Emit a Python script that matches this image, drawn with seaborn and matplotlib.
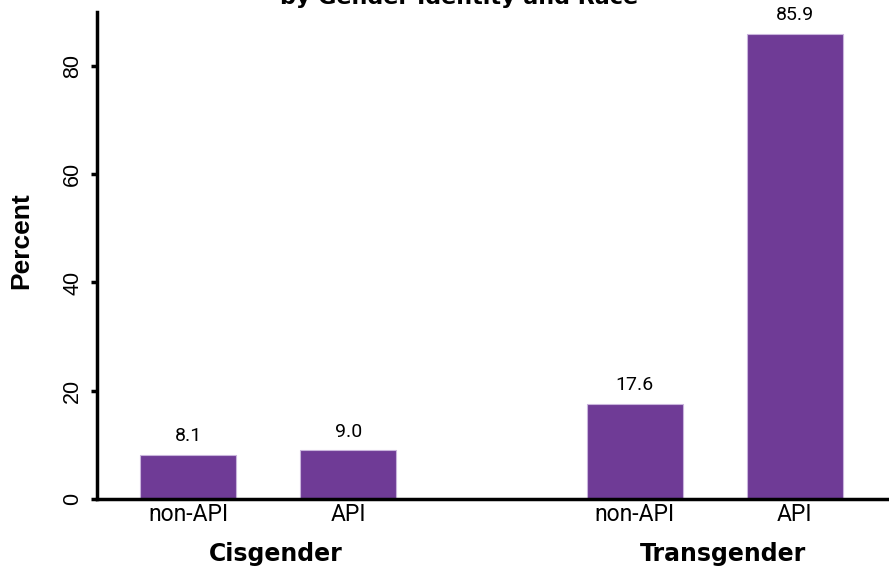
import numpy as np
import pandas as pd
import matplotlib
matplotlib.use("Agg")
import matplotlib.pyplot as plt
import seaborn as sns

# dados
grupos = ["Cisgender", "Cisgender", "Transgender", "Transgender"]
raca = ["non-API", "API", "non-API", "API"]
percentual = [8.1, 9.0, 17.6, 85.9]
posicao = [0.0, 1.0, 2.79, 3.79]

df = pd.DataFrame({"grupo": grupos, "raca": raca, "pct": percentual, "pos": posicao})

sns.set_style("ticks")
plt.rcParams.update({"text.color": "black", "axes.labelcolor": "black",
                     "xtick.color": "black", "ytick.color": "black",
                     "axes.edgecolor": "black"})
roxo = "#6f3b96"

fig = plt.figure(figsize=(8.89, 5.67), dpi=100)
ax = fig.add_axes([0.109, 0.12, 0.891, 0.859])

sns.barplot(data=df, x="pos", y="pct", native_scale=True, width=0.6,
            color=roxo, saturation=1, edgecolor="#c9b5dc", linewidth=0.8, ax=ax)

ax.set_xlim(-0.57, 4.38)
ax.set_ylim(0, 90)
ax.set_yticks([0, 20, 40, 60, 80])
ax.set_yticklabels(["0", "20", "40", "60", "80"], rotation=90, va="center",
                   fontsize=15.5, family=["Liberation Sans Narrow", "Liberation Sans", "DejaVu Sans"])
ax.set_xticks(df["pos"])
ax.set_xticklabels(df["raca"], fontsize=16.5, family=["Roboto", "DejaVu Sans"])
ax.tick_params(axis="x", length=0, pad=3)
ax.tick_params(axis="y", length=4, width=2.5, pad=6)

for s in ["top", "right"]:
    ax.spines[s].set_visible(False)
ax.spines["left"].set_linewidth(2.5)
ax.spines["bottom"].set_linewidth(2.5)

ax.set_xlabel("")
ax.set_ylabel("Percent", fontsize=19, fontweight="bold",
              family=["Liberation Sans", "DejaVu Sans"])
ax.yaxis.set_label_coords(-0.08, 0.53)

# valores acima das barras
for p, v in zip(df["pos"], df["pct"]):
    ax.text(p, v + 1.8, f"{v:.1f}", ha="center", va="bottom", fontsize=14,
            family=["Roboto", "DejaVu Sans"])

# rótulos dos grupos
for g in ["Cisgender", "Transgender"]:
    centro = df.loc[df["grupo"] == g, "pos"].mean()
    ax.text(centro + 0.05, -0.112, g, transform=ax.get_xaxis_transform(), ha="center",
            va="center", fontsize=17, fontweight="bold",
            family=["DejaVu Sans"])

# título cortado no topo
fig.text(0.516, 0.993, "by Gender Identity and Race", ha="center", va="baseline",
         fontsize=16, fontweight="bold", family=["DejaVu Sans"])

fig.savefig("out.png", dpi=100)
